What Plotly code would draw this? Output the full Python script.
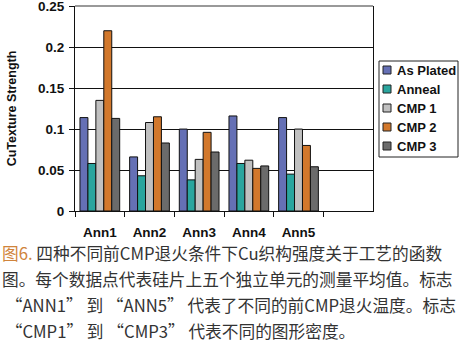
import plotly.graph_objects as go

categories = ["Ann1", "Ann2", "Ann3", "Ann4", "Ann5"]
series_names = ["As Plated", "Anneal", "CMP 1", "CMP 2", "CMP 3"]
as_plated = [0.114, 0.066, 0.100, 0.116, 0.114]
anneal = [0.058, 0.043, 0.038, 0.058, 0.045]
cmp1 = [0.135, 0.108, 0.063, 0.062, 0.100]
cmp2 = [0.220, 0.115, 0.096, 0.052, 0.080]
cmp3 = [0.113, 0.083, 0.072, 0.055, 0.054]
y_ticks = [0, 0.05, 0.1, 0.15, 0.2, 0.25]
y_tick_text = ["0", "0.05", "0.1", "0.15", "0.2", "0.25"]

caption_lines = [
    "<span style='color:#d0843c'>图6.</span> 四种不同前CMP退火条件下Cu织构强度关于工艺的函数",
    "图。每个数据点代表硅片上五个独立单元的测量平均值。标志",
    " “ANN1” 到 “ANN5” 代表了不同的前CMP退火温度。标志",
    " “CMP1” 到 “CMP3” 代表不同的图形密度。",
]

colors = ["#6570b5", "#2aa59e", "#c0c0c0", "#d2782c", "#6b6b6b"]
values = [as_plated, anneal, cmp1, cmp2, cmp3]

fig = go.Figure()
for name, vals, col in zip(series_names, values, colors):
    fig.add_trace(go.Bar(
        x=categories, y=vals, name=name, showlegend=False,
        marker=dict(color=col, line=dict(color="#111111", width=1)),
    ))

W, H = 460, 354
ml, mr, mt, mb = 75, 87, 6, 143
pw = W - ml - mr
ph = H - mt - mb
BOLD = dict(family="Liberation Sans, Arial", color="#111111", weight="bold")


def px_x(p):
    return (p - ml) / pw


def px_y(p):
    return (H - mb - p) / ph


fig.update_layout(
    width=W, height=H,
    margin=dict(l=ml, r=mr, t=mt, b=mb, pad=0, autoexpand=False),
    paper_bgcolor="white", plot_bgcolor="white",
    barmode="group", bargap=0.2, bargroupgap=0,
    font=dict(family="Liberation Sans, Arial", color="#111111"),
    showlegend=False,
    xaxis=dict(
        type="category", range=[-0.5, 5.5], automargin=False,
        showline=True, linecolor="#111111", linewidth=1,
        ticks="outside", ticklen=5, tickcolor="#111111", tickson="boundaries",
        showgrid=False, ticklabelstandoff=9,
        tickfont=dict(size=13.5, **BOLD),
    ),
    yaxis=dict(
        range=[0, 0.2502], tickvals=y_ticks, ticktext=y_tick_text,
        automargin=False,
        showline=True, linecolor="#111111", linewidth=1, mirror=True,
        ticks="outside", ticklen=5, tickcolor="#111111",
        showgrid=True, gridcolor="#111111", gridwidth=1,
        zeroline=False, ticklabelstandoff=2, ticklabeloverflow="allow",
        tickfont=dict(size=13.5, **BOLD),
        title=dict(text="CuTexture Strength", standoff=18,
                   font=dict(size=12.5, **BOLD)),
    ),
)

# grey top border
fig.add_shape(type="line", xref="paper", yref="paper", x0=0, x1=1, y0=1, y1=1,
              line=dict(color="#999999", width=2), layer="above")

# legend (box, swatches, labels)
fig.add_shape(type="rect", xref="paper", yref="paper",
              x0=px_x(379), x1=px_x(458), y0=px_y(61), y1=px_y(157),
              line=dict(color="#222222", width=1), fillcolor="white", layer="above")
for i, (name, col) in enumerate(zip(series_names, colors)):
    yc = 70 + 19 * i
    fig.add_shape(type="rect", xref="paper", yref="paper",
                  x0=px_x(383), x1=px_x(391), y0=px_y(yc - 4), y1=px_y(yc + 4),
                  line=dict(color="#222222", width=1), fillcolor=col, layer="above")
    fig.add_annotation(text=name, xref="paper", yref="paper",
                       x=px_x(395), y=px_y(yc), xanchor="left", yanchor="middle",
                       showarrow=False, font=dict(size=13, **BOLD))

line_centers = [253, 279, 305, 331]
for txt, yc in zip(caption_lines, line_centers):
    fig.add_annotation(
        text=txt, xref="paper", yref="paper",
        x=px_x(0), y=px_y(yc),
        xanchor="left", yanchor="middle", showarrow=False,
        font=dict(size=16.7, family="Noto Sans CJK SC", color="#333333"),
        align="left",
    )

fig.write_html("out.html")
